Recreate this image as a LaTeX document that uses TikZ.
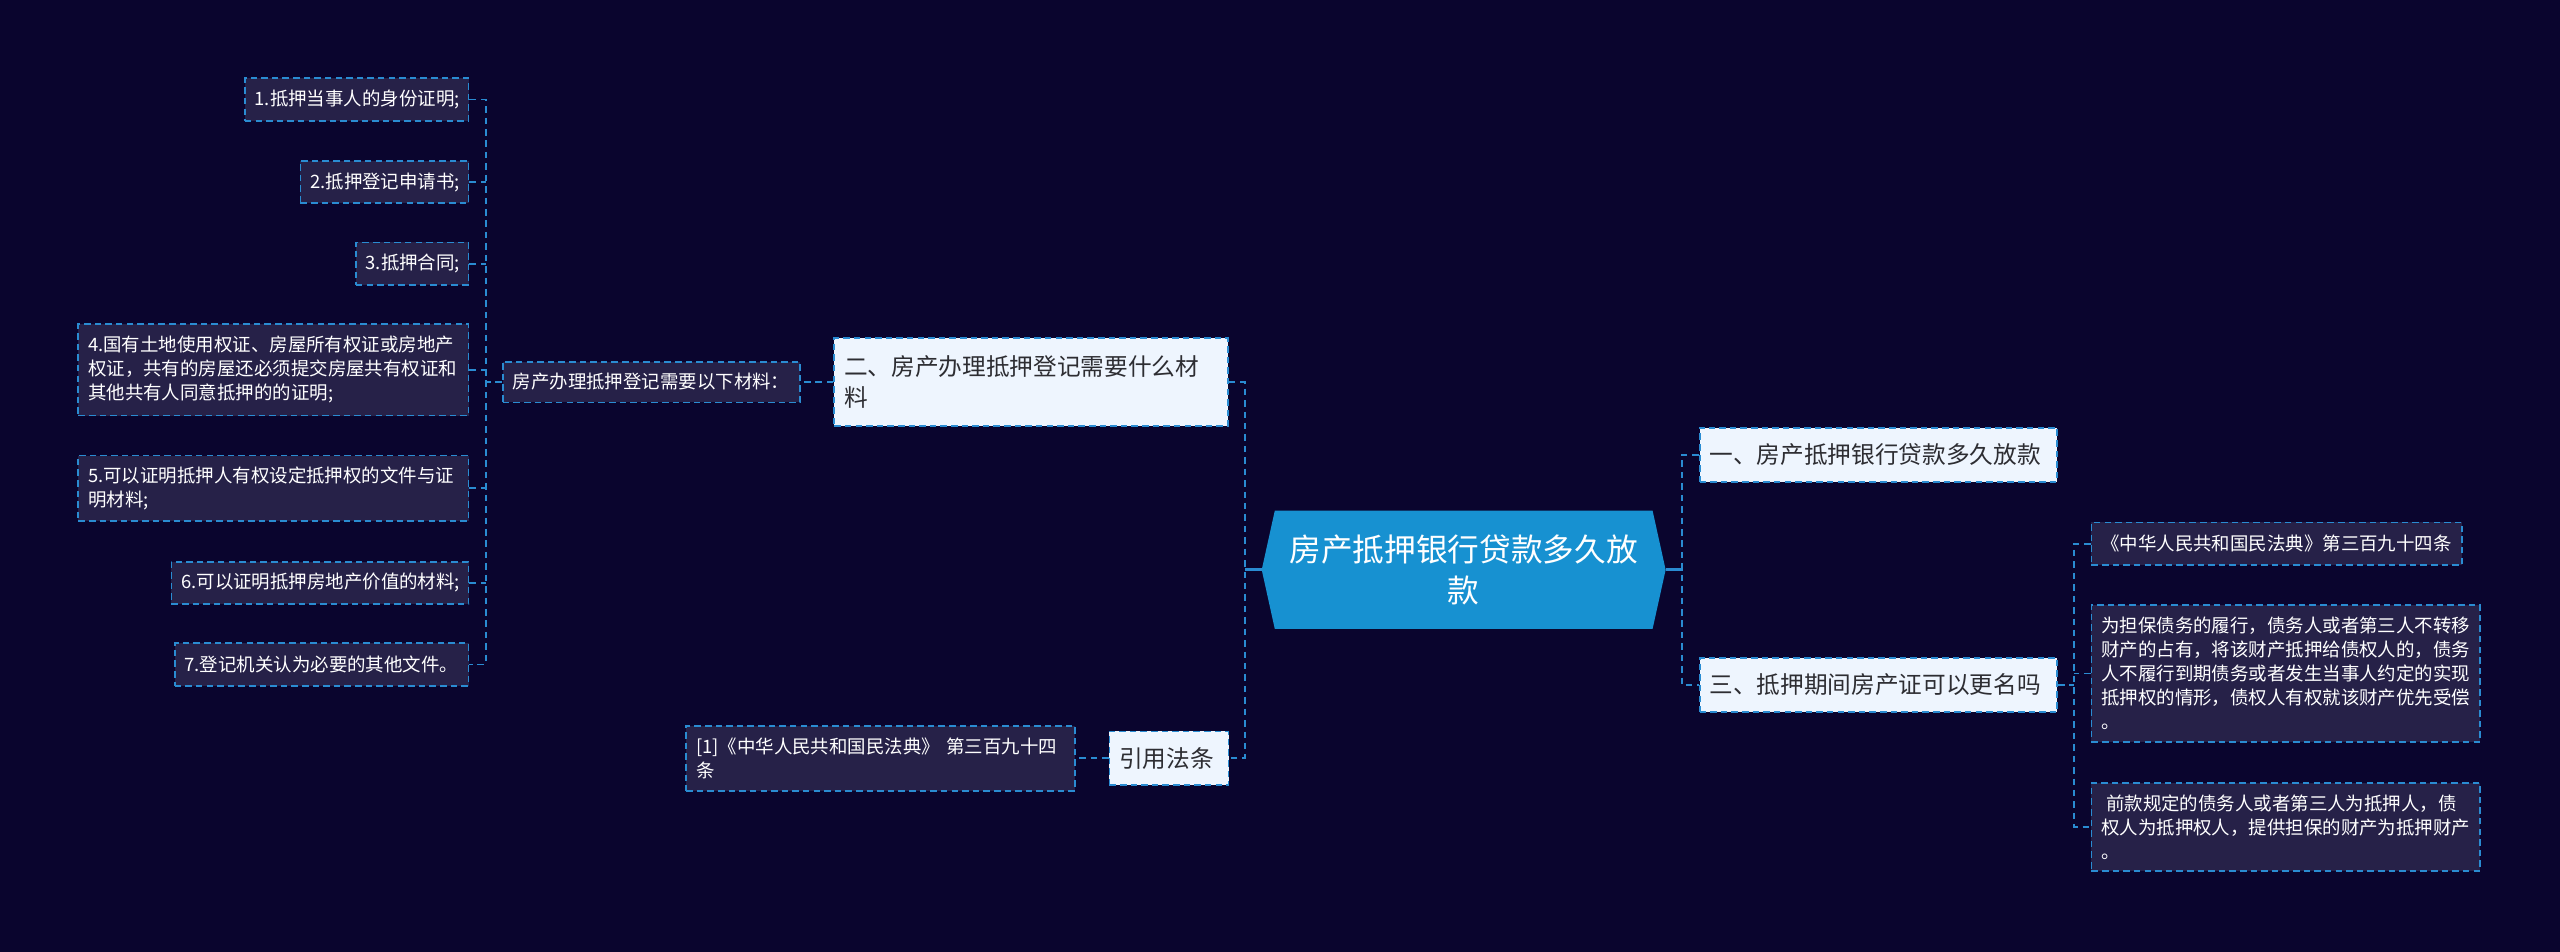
\documentclass[tikz,border=0pt]{standalone}
\usepackage{fontspec}
\setmainfont{Noto Sans CJK SC}
\usetikzlibrary{backgrounds}
\definecolor{bgc}{RGB}{10,5,46}
\definecolor{darkfill}{RGB}{38,33,72}
\definecolor{edgec}{RGB}{42,140,210}
\definecolor{lightfill}{RGB}{238,245,254}
\definecolor{lighttext}{RGB}{45,45,50}
\definecolor{rootc}{RGB}{23,145,209}
\begin{document}
\begin{tikzpicture}[x=1pt,y=-1pt,
  conn/.style={draw=edgec, line width=1.1pt, dash pattern=on 4pt off 3pt},
  rootconn/.style={draw=edgec, line width=1.8pt},
  boxbase/.style={draw=edgec, line width=1.1pt, dash pattern=on 4pt off 2.5pt,
    inner xsep=6pt, inner ysep=0pt, align=left, anchor=center},
  darkbox/.style={boxbase, fill=darkfill, text=white,
    font=\fontsize{11.3}{14.7}\selectfont},
  lightbox/.style={boxbase, fill=lightfill, text=lighttext,
    font=\fontsize{14.5}{19.5}\selectfont},
  sz/.style n args={2}{text width=#1, minimum height=#2}
]
\begin{scope}[on background layer]
  \fill[bgc] (0,0) rectangle (1568,583);
\end{scope}
\useasboundingbox (0,0) rectangle (1568,583);

% root
\node[inner sep=0pt, minimum width=247pt, minimum height=72pt, align=center,
  text=white, font=\fontsize{19.4}{25}\selectfont] (root) at (896.5,349)
  {房产抵押银行贷款多久放\\款};
\begin{scope}[on background layer]
  \fill[rootc] ([xshift=8pt]root.north west) -- (root.west) -- ([xshift=8pt]root.south west)
    -- ([xshift=-8pt]root.south east) -- (root.east) -- ([xshift=-8pt]root.north east) -- cycle;
\end{scope}

% level 1
\node[lightbox, sz={229pt}{54pt}] (b2) at (631.5,234) {二、房产办理抵押登记需要什么材\\料};
\node[lightbox, sz={61pt}{33pt}] (b4) at (716,464.5) {引用法条};
\node[lightbox, sz={207pt}{33pt}] (b1) at (1150.5,278.5) {一、房产抵押银行贷款多久放款};
\node[lightbox, sz={207pt}{33pt}] (b3) at (1150.5,419.5) {三、抵押期间房产证可以更名吗};

% level 2 left
\node[darkbox, sz={170pt}{25pt}] (m) at (399,234) {房产办理抵押登记需要以下材料：};
\node[darkbox, sz={125pt}{26pt}] (it1) at (218.5,61) {1.抵押当事人的身份证明;};
\node[darkbox, sz={91pt}{26pt}] (it2) at (235.5,111.5) {2.抵押登记申请书;};
\node[darkbox, sz={57pt}{26pt}] (it3) at (252.5,161.5) {3.抵押合同;};
\node[darkbox, sz={227pt}{56pt}] (it4) at (167.5,226.5) {4.国有土地使用权证、房屋所有权证或房地产\\权证，共有的房屋还必须提交房屋共有权证和\\其他共有人同意抵押的的证明;};
\node[darkbox, sz={227pt}{40pt}] (it5) at (167.5,299) {5.可以证明抵押人有权设定抵押权的文件与证\\明材料;};
\node[darkbox, sz={170pt}{26pt}] (it6) at (196,357) {6.可以证明抵押房地产价值的材料;};
\node[darkbox, sz={168pt}{26pt}] (it7) at (197,407) {7.登记机关认为必要的其他文件。};
\node[darkbox, sz={226pt}{40pt}] (ref) at (539.3,464.5) {[1]《中华人民共和国民法典》 第三百九十四\\条};

% level 2 right
\node[darkbox, sz={215pt}{26pt}] (ra) at (1394.5,333) {《中华人民共和国民法典》第三百九十四条};
\node[darkbox, sz={226pt}{84pt}] (rb) at (1400,412.5) {为担保债务的履行，债务人或者第三人不转移\\财产的占有，将该财产抵押给债权人的，债务\\人不履行到期债务或者发生当事人约定的实现\\抵押权的情形，债权人有权就该财产优先受偿\\。};
\node[darkbox, sz={226pt}{54pt}] (rc) at (1400,506.5) {\hspace*{3pt}前款规定的债务人或者第三人为抵押人，债\\权人为抵押权人，提供担保的财产为抵押财产\\。};

% junctions
\coordinate (jl) at (762.5,349);
\coordinate (jr) at (1030,349);
\coordinate (jm) at (297.5,234);
\coordinate (jb) at (1270.3,419.5);

% connectors
\draw[rootconn] (root.west) -- (jl);
\draw[rootconn] (root.east) -- (jr);
\draw[conn] (b2.east) -| (jl) |- (b4.east);
\draw[conn] (b1.west) -| (jr) |- (b3.west);
\draw[conn] (b2.west) -- (m.east);
\draw[conn] (b4.west) -- (ref.east);
\draw[conn] (m.west) -- (jm);
\draw[conn] (it1.east) -| (jm) |- (it7.east);
\draw[conn] (it2.east) -- (it2.east -| jm);
\draw[conn] (it3.east) -- (it3.east -| jm);
\draw[conn] (it4.east) -- (it4.east -| jm);
\draw[conn] (it5.east) -- (it5.east -| jm);
\draw[conn] (it6.east) -- (it6.east -| jm);
\draw[conn] (b3.east) -- (jb);
\draw[conn] (ra.west) -| (jb) |- (rc.west);
\draw[conn] (rb.west) -- (rb.west -| jb);
\end{tikzpicture}
\end{document}
